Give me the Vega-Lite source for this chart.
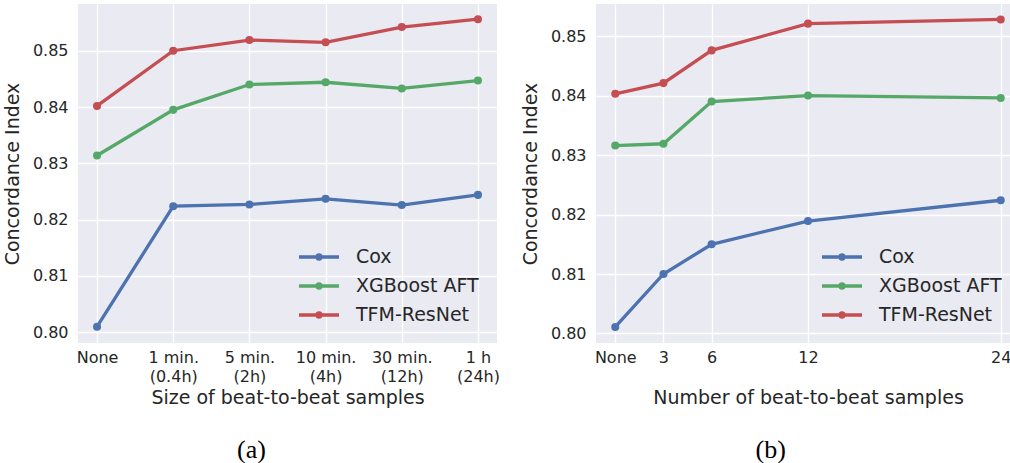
{
  "$schema": "https://vega.github.io/schema/vega-lite/v6.json",
  "padding": {"left": 3, "top": 4, "right": 0, "bottom": 0},
  "background": "white",
  "config": {
    "view": {"fill": "#EAEAF2", "stroke": null},
    "font": "DejaVu Sans",
    "axis": {"domain": false, "ticks": false, "grid": true, "gridColor": "white", "gridWidth": 1.3, "labelFont": "DejaVu Sans", "labelFontSize": 16, "labelColor": "#262626", "titleFont": "DejaVu Sans", "titleFontSize": 19, "titleFontWeight": "normal", "titleColor": "#262626"},
    "legend": {"orient": "bottom-right", "offset": 18, "padding": 0, "labelFont": "DejaVu Sans", "labelFontSize": 19, "labelColor": "#262626", "symbolType": "M-1,0L3,0M0.8,0A0.2,0.2,0,1,1,1.2,0A0.2,0.2,0,1,1,0.8,0Z", "symbolSize": 400, "symbolStrokeWidth": 3.3, "labelOffset": 35, "rowPadding": 7, "symbolOpacity": 1},
    "title": {"orient": "bottom", "frame": "bounds", "anchor": "middle", "font": "Liberation Serif", "fontSize": 26, "fontWeight": "normal", "color": "black", "offset": 30}
  },
  "datasets": {
    "a": [
      {"size": "None", "model": "Cox", "ci": 0.8010},
      {"size": "1 min.|(0.4h)", "model": "Cox", "ci": 0.8224},
      {"size": "5 min.|(2h)", "model": "Cox", "ci": 0.8227},
      {"size": "10 min.|(4h)", "model": "Cox", "ci": 0.8237},
      {"size": "30 min.|(12h)", "model": "Cox", "ci": 0.8226},
      {"size": "1 h|(24h)", "model": "Cox", "ci": 0.8244},
      {"size": "None", "model": "XGBoost AFT", "ci": 0.8314},
      {"size": "1 min.|(0.4h)", "model": "XGBoost AFT", "ci": 0.8395},
      {"size": "5 min.|(2h)", "model": "XGBoost AFT", "ci": 0.8440},
      {"size": "10 min.|(4h)", "model": "XGBoost AFT", "ci": 0.8444},
      {"size": "30 min.|(12h)", "model": "XGBoost AFT", "ci": 0.8433},
      {"size": "1 h|(24h)", "model": "XGBoost AFT", "ci": 0.8447},
      {"size": "None", "model": "TFM-ResNet", "ci": 0.8402},
      {"size": "1 min.|(0.4h)", "model": "TFM-ResNet", "ci": 0.8500},
      {"size": "5 min.|(2h)", "model": "TFM-ResNet", "ci": 0.8519},
      {"size": "10 min.|(4h)", "model": "TFM-ResNet", "ci": 0.8515},
      {"size": "30 min.|(12h)", "model": "TFM-ResNet", "ci": 0.8542},
      {"size": "1 h|(24h)", "model": "TFM-ResNet", "ci": 0.8556}
    ],
    "b": [
      {"n": 0, "model": "Cox", "ci": 0.8011},
      {"n": 3, "model": "Cox", "ci": 0.8100},
      {"n": 6, "model": "Cox", "ci": 0.8150},
      {"n": 12, "model": "Cox", "ci": 0.8189},
      {"n": 24, "model": "Cox", "ci": 0.8224},
      {"n": 0, "model": "XGBoost AFT", "ci": 0.8316},
      {"n": 3, "model": "XGBoost AFT", "ci": 0.8319},
      {"n": 6, "model": "XGBoost AFT", "ci": 0.8390},
      {"n": 12, "model": "XGBoost AFT", "ci": 0.8400},
      {"n": 24, "model": "XGBoost AFT", "ci": 0.8396},
      {"n": 0, "model": "TFM-ResNet", "ci": 0.8403},
      {"n": 3, "model": "TFM-ResNet", "ci": 0.8421},
      {"n": 6, "model": "TFM-ResNet", "ci": 0.8476},
      {"n": 12, "model": "TFM-ResNet", "ci": 0.8521},
      {"n": 24, "model": "TFM-ResNet", "ci": 0.8528}
    ]
  },
  "bounds": "flush",
  "spacing": 99,
  "resolve": {"scale": {"y": "independent", "x": "independent"}, "legend": {"color": "independent"}},
  "hconcat": [
    {
      "width": 419,
      "height": 339,
      "data": {"name": "a"},
      "title": "(a)",
      "mark": {"type": "line", "strokeWidth": 3.3, "point": {"filled": true, "size": 65}},
      "encoding": {
        "x": {"field": "size", "type": "ordinal", "sort": ["None", "1 min.|(0.4h)", "5 min.|(2h)", "10 min.|(4h)", "30 min.|(12h)", "1 h|(24h)"], "scale": {"type": "point", "padding": 0.25}, "axis": {"title": "Size of beat-to-beat samples", "labelAngle": 0, "labelPadding": 6, "labelExpr": "split(datum.label, '|')", "labelLineHeight": 19, "titlePadding": 4}},
        "y": {"field": "ci", "type": "quantitative", "scale": {"domain": [0.7981, 0.8583], "nice": false, "zero": false}, "axis": {"title": "Concordance Index", "values": [0.80, 0.81, 0.82, 0.83, 0.84, 0.85], "format": ".2f", "labelPadding": 10, "titlePadding": 10}},
        "color": {"field": "model", "type": "nominal", "scale": {"domain": ["Cox", "XGBoost AFT", "TFM-ResNet"], "range": ["#4C72B0", "#55A868", "#C44E52"]}, "legend": {"title": null}}
      }
    },
    {
      "width": 424,
      "height": 339,
      "data": {"name": "b"},
      "title": "(b)",
      "mark": {"type": "line", "strokeWidth": 3.3, "point": {"filled": true, "size": 65}},
      "encoding": {
        "x": {"field": "n", "type": "quantitative", "scale": {"domain": [-1.2, 25.2], "nice": false, "zero": false}, "axis": {"title": "Number of beat-to-beat samples", "values": [0, 3, 6, 12, 24], "labelExpr": "datum.value == 0 ? 'None' : datum.label", "labelPadding": 6, "titlePadding": 23}},
        "y": {"field": "ci", "type": "quantitative", "scale": {"domain": [0.7984, 0.8554], "nice": false, "zero": false}, "axis": {"title": "Concordance Index", "values": [0.80, 0.81, 0.82, 0.83, 0.84, 0.85], "format": ".2f", "labelPadding": 10, "titlePadding": 10}},
        "color": {"field": "model", "type": "nominal", "scale": {"domain": ["Cox", "XGBoost AFT", "TFM-ResNet"], "range": ["#4C72B0", "#55A868", "#C44E52"]}, "legend": {"title": null}}
      }
    }
  ]
}
